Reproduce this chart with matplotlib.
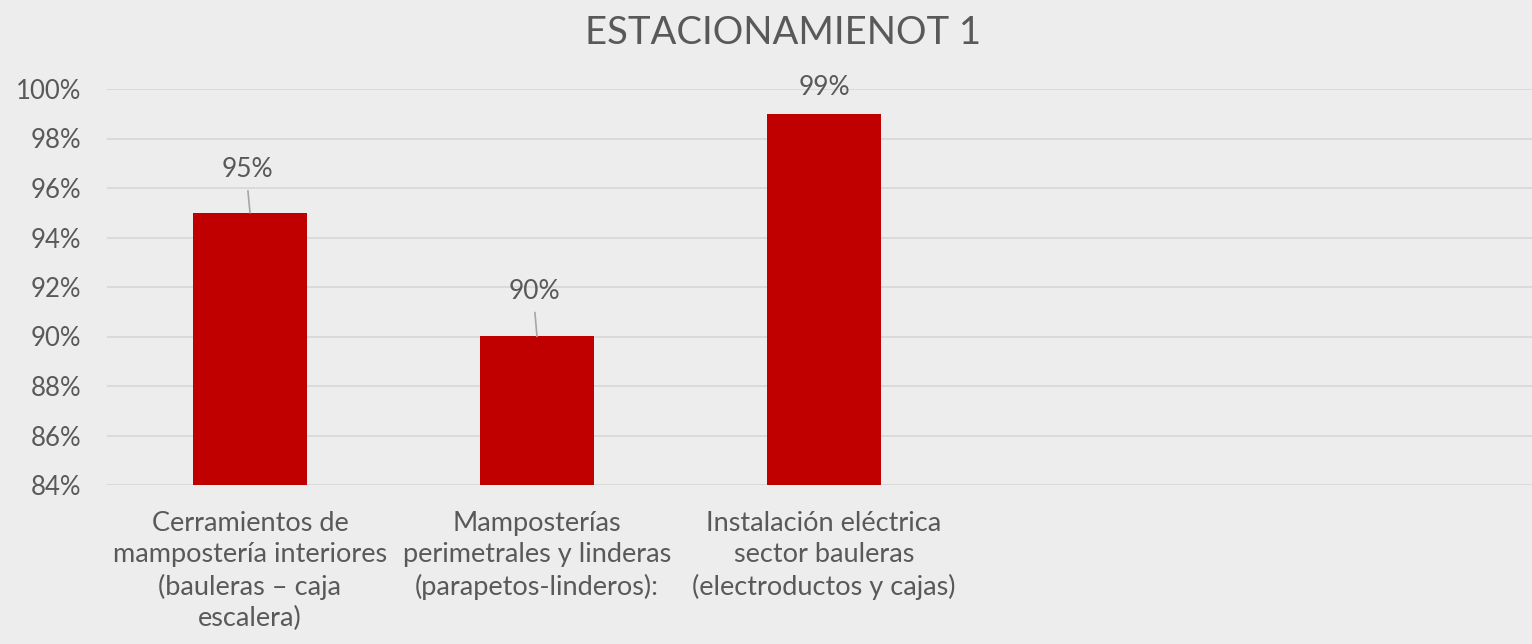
import matplotlib
matplotlib.use("Agg")
import matplotlib.pyplot as plt
from matplotlib.ticker import FixedLocator, FuncFormatter

categories = [
    "Cerramientos de\nmampostería interiores\n(bauleras – caja\nescalera)",
    "Mamposterías\nperimetrales y linderas\n(parapetos-linderos):",
    "Instalación eléctrica\nsector bauleras\n(electroductos y cajas)",
    "",
    "",
]
values = [0.95, 0.90, 0.99, None, None]
labels = ["95%", "90%", "99%"]
yticks = [0.84, 0.86, 0.88, 0.90, 0.92, 0.94, 0.96, 0.98, 1.00]
title = "ESTACIONAMIENOT 1"

plt.rcParams['font.family'] = ['Lato', 'DejaVu Sans']
BG = "#EDEDED"
TXT = "#595959"

fig = plt.figure(figsize=(15.32, 6.44), dpi=100, facecolor=BG)
ax = fig.add_axes([106.5/1532, 1-485/644, 1435/1532, (485-89)/644])
ax.set_facecolor(BG)

xs = list(range(len(categories)))
for x, v in zip(xs, values):
    if v is not None:
        ax.bar(x, v - 0.84, bottom=0.84, width=0.4, color="#C00000", zorder=3)

ax.set_xlim(-0.5, len(categories) - 0.5)
ax.set_ylim(0.84, 1.00)
ax.yaxis.set_major_locator(FixedLocator(yticks))
ax.yaxis.set_major_formatter(FuncFormatter(lambda v, p: f"{round(v*100)}%"))
ax.grid(axis='y', color="#D9D9D9", linewidth=1.3, zorder=0)
ax.set_xticks(xs)
ax.set_xticklabels(categories, fontsize=19.5, color=TXT, linespacing=1.3)
ax.tick_params(axis='x', length=0, pad=19)
ax.tick_params(axis='y', length=0, pad=18, labelsize=18.5, labelcolor=TXT)
for s in ax.spines.values():
    s.set_visible(False)

# data labels (manually offset like the original), with leader lines
offsets_px = [43, 45, 26]
leader = [True, True, False]
for x, v, lab, off, ld in zip(xs, values, labels, offsets_px, leader):
    ax.annotate(lab, xy=(x, v), xytext=(-2 if ld else 0, off * 0.72),
                textcoords='offset points', ha='center', va='center',
                fontsize=19, color=TXT, zorder=5)
    if ld:
        ax.annotate("", xy=(x, v), xytext=(-1.5, (off - 21) * 0.72),
                    textcoords='offset points',
                    arrowprops=dict(arrowstyle='-', color="#A6A6A6", lw=1.2,
                                    shrinkA=0, shrinkB=0), zorder=5)

fig.text(783/1532, 1-33/644, title, ha='center', va='center',
         fontsize=27.5, color=TXT)

fig.savefig("out.png", dpi=100, facecolor=BG)
